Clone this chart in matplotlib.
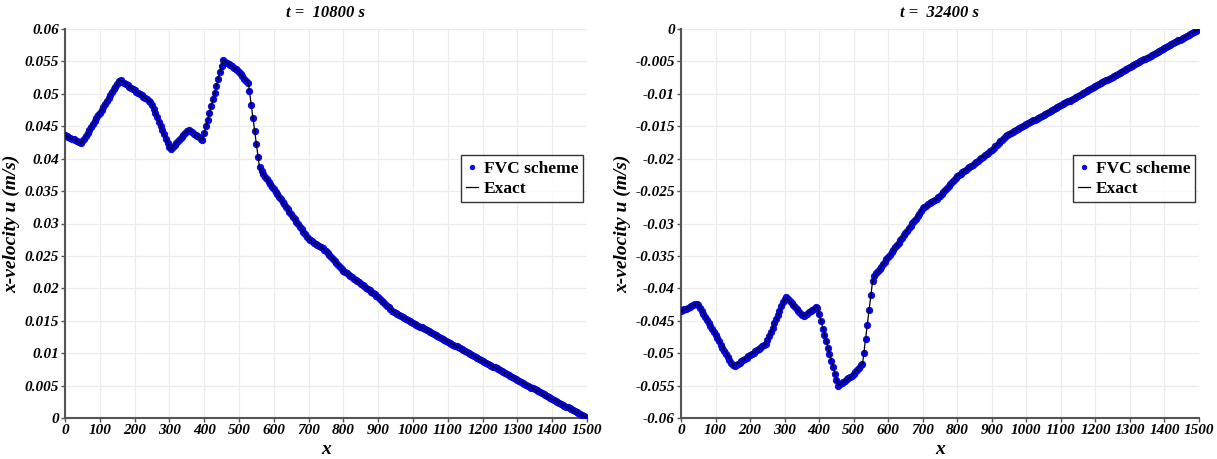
import numpy as np
import matplotlib
matplotlib.use("Agg")
import matplotlib.pyplot as plt
from matplotlib.ticker import MultipleLocator, FuncFormatter

plt.rcParams["font.family"] = ["Liberation Serif", "DejaVu Serif"]
plt.rcParams["axes.unicode_minus"] = False

# FVC scheme nodes (every 5 m along the channel)
x_nodes = np.arange(0, 1505, 5)

u_left = [
    0.04360, 0.04347, 0.04334, 0.04322, 0.04309, 0.04296, 0.04283, 0.04271, 0.04258, 0.04245,
    0.04267, 0.04311, 0.04356, 0.04400, 0.04445, 0.04489, 0.04534, 0.04579, 0.04623, 0.04668,
    0.04712, 0.04757, 0.04801, 0.04846, 0.04890, 0.04935, 0.04979, 0.05024, 0.05069, 0.05113,
    0.05158, 0.05202, 0.05208, 0.05189, 0.05169, 0.05150, 0.05131, 0.05111, 0.05092, 0.05072,
    0.05053, 0.05033, 0.05014, 0.04994, 0.04975, 0.04956, 0.04936, 0.04917, 0.04897, 0.04878,
    0.04831, 0.04766, 0.04701, 0.04635, 0.04570, 0.04505, 0.04440, 0.04375, 0.04309, 0.04244,
    0.04179, 0.04152, 0.04183, 0.04214, 0.04245, 0.04276, 0.04307, 0.04338, 0.04369, 0.04400,
    0.04431, 0.04442, 0.04423, 0.04404, 0.04385, 0.04366, 0.04347, 0.04328, 0.04309, 0.04290,
    0.04394, 0.04498, 0.04603, 0.04707, 0.04811, 0.04915, 0.05019, 0.05124, 0.05228, 0.05332,
    0.05437, 0.05516, 0.05498, 0.05479, 0.05460, 0.05441, 0.05423, 0.05404, 0.05385, 0.05364,
    0.05332, 0.05300, 0.05268, 0.05236, 0.05205, 0.05173, 0.05038, 0.04835, 0.04632, 0.04428,
    0.04225, 0.04022, 0.03873, 0.03804, 0.03759, 0.03721, 0.03682, 0.03644, 0.03606, 0.03567,
    0.03529, 0.03490, 0.03452, 0.03413, 0.03375, 0.03337, 0.03298, 0.03260, 0.03221, 0.03183,
    0.03144, 0.03106, 0.03067, 0.03029, 0.02991, 0.02952, 0.02914, 0.02875, 0.02837, 0.02798,
    0.02760, 0.02742, 0.02724, 0.02706, 0.02688, 0.02670, 0.02652, 0.02634, 0.02616, 0.02598,
    0.02580, 0.02549, 0.02518, 0.02487, 0.02456, 0.02425, 0.02394, 0.02363, 0.02332, 0.02301,
    0.02270, 0.02250, 0.02230, 0.02210, 0.02190, 0.02170, 0.02150, 0.02130, 0.02110, 0.02090,
    0.02070, 0.02050, 0.02030, 0.02010, 0.01990, 0.01970, 0.01950, 0.01930, 0.01910, 0.01885,
    0.01859, 0.01834, 0.01808, 0.01783, 0.01757, 0.01732, 0.01707, 0.01681, 0.01656, 0.01630,
    0.01615, 0.01601, 0.01586, 0.01572, 0.01557, 0.01543, 0.01528, 0.01514, 0.01499, 0.01485,
    0.01470, 0.01455, 0.01441, 0.01426, 0.01411, 0.01397, 0.01382, 0.01367, 0.01352, 0.01338,
    0.01323, 0.01308, 0.01294, 0.01279, 0.01264, 0.01250, 0.01235, 0.01220, 0.01205, 0.01191,
    0.01176, 0.01161, 0.01147, 0.01132, 0.01117, 0.01103, 0.01088, 0.01073, 0.01058, 0.01044,
    0.01029, 0.01014, 0.01000, 0.00985, 0.00970, 0.00956, 0.00941, 0.00926, 0.00911, 0.00897,
    0.00882, 0.00867, 0.00853, 0.00838, 0.00823, 0.00809, 0.00794, 0.00779, 0.00764, 0.00750,
    0.00735, 0.00720, 0.00706, 0.00691, 0.00676, 0.00662, 0.00647, 0.00632, 0.00617, 0.00603,
    0.00588, 0.00573, 0.00559, 0.00544, 0.00529, 0.00515, 0.00500, 0.00485, 0.00470, 0.00456,
    0.00441, 0.00426, 0.00412, 0.00397, 0.00382, 0.00368, 0.00353, 0.00338, 0.00323, 0.00309,
    0.00294, 0.00279, 0.00265, 0.00250, 0.00235, 0.00221, 0.00206, 0.00191, 0.00176, 0.00162,
    0.00147, 0.00132, 0.00118, 0.00103, 0.00088, 0.00074, 0.00059, 0.00044, 0.00029, 0.00015,
    0.00000,
]

u_right = [
    -0.04350, -0.04337, -0.04324, -0.04312, -0.04299, -0.04286, -0.04273, -0.04261, -0.04248, -0.04235,
    -0.04250, -0.04298, -0.04345, -0.04393, -0.04440, -0.04488, -0.04535, -0.04583, -0.04630, -0.04678,
    -0.04725, -0.04773, -0.04820, -0.04868, -0.04915, -0.04963, -0.05010, -0.05058, -0.05105, -0.05153,
    -0.05180, -0.05198, -0.05182, -0.05163, -0.05144, -0.05125, -0.05106, -0.05087, -0.05068, -0.05049,
    -0.05030, -0.05011, -0.04992, -0.04973, -0.04954, -0.04935, -0.04916, -0.04897, -0.04878, -0.04859,
    -0.04800, -0.04735, -0.04670, -0.04605, -0.04540, -0.04475, -0.04410, -0.04345, -0.04280, -0.04215,
    -0.04168, -0.04140, -0.04171, -0.04202, -0.04233, -0.04264, -0.04295, -0.04326, -0.04357, -0.04388,
    -0.04419, -0.04428, -0.04409, -0.04390, -0.04371, -0.04352, -0.04333, -0.04314, -0.04295, -0.04300,
    -0.04400, -0.04510, -0.04620, -0.04720, -0.04820, -0.04920, -0.05020, -0.05120, -0.05220, -0.05320,
    -0.05420, -0.05500, -0.05482, -0.05463, -0.05444, -0.05425, -0.05406, -0.05387, -0.05368, -0.05350,
    -0.05320, -0.05290, -0.05260, -0.05225, -0.05190, -0.05160, -0.04990, -0.04780, -0.04560, -0.04330,
    -0.04100, -0.03880, -0.03810, -0.03770, -0.03735, -0.03700, -0.03664, -0.03627, -0.03590, -0.03553,
    -0.03516, -0.03479, -0.03442, -0.03405, -0.03368, -0.03331, -0.03294, -0.03257, -0.03220, -0.03183,
    -0.03146, -0.03109, -0.03072, -0.03035, -0.02998, -0.02961, -0.02924, -0.02887, -0.02850, -0.02813,
    -0.02760, -0.02742, -0.02724, -0.02706, -0.02688, -0.02670, -0.02652, -0.02634, -0.02616, -0.02598,
    -0.02580, -0.02549, -0.02518, -0.02487, -0.02456, -0.02425, -0.02394, -0.02363, -0.02332, -0.02301,
    -0.02270, -0.02250, -0.02230, -0.02210, -0.02190, -0.02170, -0.02150, -0.02130, -0.02110, -0.02090,
    -0.02070, -0.02050, -0.02030, -0.02010, -0.01990, -0.01970, -0.01950, -0.01930, -0.01910, -0.01885,
    -0.01859, -0.01834, -0.01808, -0.01783, -0.01757, -0.01732, -0.01707, -0.01681, -0.01656, -0.01630,
    -0.01615, -0.01601, -0.01586, -0.01572, -0.01557, -0.01543, -0.01528, -0.01514, -0.01499, -0.01485,
    -0.01470, -0.01455, -0.01441, -0.01426, -0.01411, -0.01397, -0.01382, -0.01367, -0.01352, -0.01338,
    -0.01323, -0.01308, -0.01294, -0.01279, -0.01264, -0.01250, -0.01235, -0.01220, -0.01205, -0.01191,
    -0.01176, -0.01161, -0.01147, -0.01132, -0.01117, -0.01103, -0.01088, -0.01073, -0.01058, -0.01044,
    -0.01029, -0.01014, -0.01000, -0.00985, -0.00970, -0.00956, -0.00941, -0.00926, -0.00911, -0.00897,
    -0.00882, -0.00867, -0.00853, -0.00838, -0.00823, -0.00809, -0.00794, -0.00779, -0.00764, -0.00750,
    -0.00735, -0.00720, -0.00706, -0.00691, -0.00676, -0.00662, -0.00647, -0.00632, -0.00617, -0.00603,
    -0.00588, -0.00573, -0.00559, -0.00544, -0.00529, -0.00515, -0.00500, -0.00485, -0.00470, -0.00456,
    -0.00441, -0.00426, -0.00412, -0.00397, -0.00382, -0.00368, -0.00353, -0.00338, -0.00323, -0.00309,
    -0.00294, -0.00279, -0.00265, -0.00250, -0.00235, -0.00221, -0.00206, -0.00191, -0.00176, -0.00162,
    -0.00147, -0.00132, -0.00118, -0.00103, -0.00088, -0.00074, -0.00059, -0.00044, -0.00029, -0.00015,
    0.00000,
]

# exact solution, break points of the profile
x_exact_left = [0, 47, 157, 247, 303, 353, 395, 454, 494, 527, 558, 566,
                700, 750, 800, 890, 945, 1000, 1500]
u_exact_left = [0.0436, 0.0424, 0.0522, 0.0487, 0.0414, 0.0445, 0.0429, 0.0552,
                0.0537, 0.0516, 0.0390, 0.0379, 0.0276, 0.0258, 0.0227, 0.0191,
                0.0163, 0.0147, 0.0]
x_exact_right = [0, 48, 153, 245, 304, 353, 394, 455, 495, 526, 555, 565,
                 700, 750, 800, 890, 945, 1000, 1500]
u_exact_right = [-0.0435, -0.0423, -0.0520, -0.0486, -0.0414, -0.0443, -0.0428,
                 -0.0550, -0.0535, -0.0515, -0.0388, -0.0378, -0.0276, -0.0258,
                 -0.0227, -0.0191, -0.0163, -0.0147, 0.0]

titles = ["t =  10800 s", "t =  32400 s"]
ylims = [(0, 0.06), (-0.06, 0)]

fig = plt.figure(figsize=(12.17, 4.59), dpi=100)
ax_l = fig.add_axes([65 / 1217, 41 / 459, 522 / 1217, 389 / 459])
ax_r = fig.add_axes([681 / 1217, 41 / 459, 518 / 1217, 389 / 459])

fmt = FuncFormatter(lambda v, p: "%g" % round(v, 4))
tick_font = dict(family="Liberation Serif", weight="bold", style="italic", size=11)

panels = [
    (ax_l, u_left, x_exact_left, u_exact_left),
    (ax_r, u_right, x_exact_right, u_exact_right),
]
for i, (ax, u, xe, ue) in enumerate(panels):
    ax.plot(x_nodes, u, "o", color="#0000ff", markersize=4.6,
            markeredgecolor="#0000c8", markeredgewidth=0.6, label="FVC scheme", zorder=3)
    ax.plot(xe, ue, "-", color="black", linewidth=0.9, label="Exact", zorder=4)

    ax.set_xlim(0, 1500)
    ax.set_ylim(*ylims[i])
    ax.xaxis.set_major_locator(MultipleLocator(100))
    ax.yaxis.set_major_locator(MultipleLocator(0.005))
    ax.yaxis.set_major_formatter(fmt)
    ax.grid(True, color="#ececec", linewidth=0.9)
    ax.set_axisbelow(True)
    for s in ("top", "right"):
        ax.spines[s].set_visible(False)
    for s in ("left", "bottom"):
        ax.spines[s].set_color("#555555")
        ax.spines[s].set_linewidth(1.5)
    ax.tick_params(direction="out", length=3, width=1, color="#555555", pad=1.5)
    for lab in ax.get_xticklabels() + ax.get_yticklabels():
        lab.set_fontproperties(tick_font)
    ax.set_title(titles[i], fontsize=12, fontweight="bold", fontstyle="italic", pad=9)
    ax.set_xlabel("x", fontsize=14, fontweight="bold", fontstyle="italic", labelpad=3)
    ax.set_ylabel("x-velocity u (m/s)", fontsize=14, fontweight="bold",
                  fontstyle="italic", labelpad=3)
    leg = ax.legend(loc="upper right", bbox_to_anchor=(0.993, 0.675),
                    prop=dict(family="Liberation Serif", weight="bold", size=12.5),
                    frameon=True, fancybox=False, edgecolor="black",
                    handlelength=0.7, handletextpad=0.3, borderpad=0.3,
                    labelspacing=0.25, borderaxespad=0, markerscale=0.7)
    leg.get_frame().set_linewidth(1.0)

fig.savefig("out.png", dpi=100)
